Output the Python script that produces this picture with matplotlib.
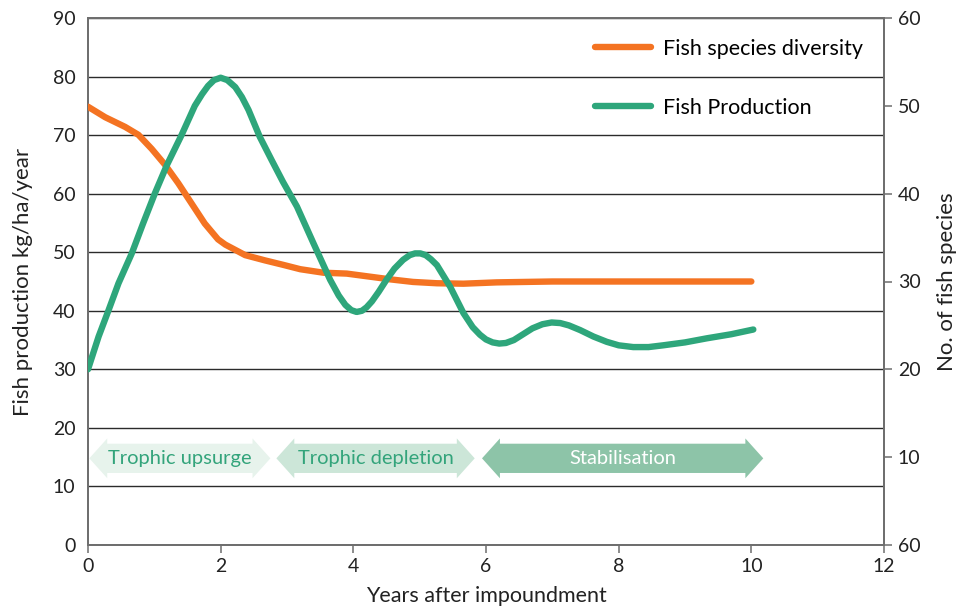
import matplotlib
matplotlib.use("Agg")
import matplotlib.pyplot as plt
from matplotlib.patches import Polygon
from matplotlib.lines import Line2D

plt.rcParams['font.family'] = ['Lato', 'DejaVu Sans']

# ---- data ----
prod_years = [0, 0.16, 0.31, 0.46, 0.66, 0.83, 1.01, 1.19, 1.41, 1.61, 1.72, 1.81, 1.9, 2.0, 2.1,
              2.22, 2.32, 2.42, 2.59, 2.77, 2.94, 3.15, 3.40, 3.65, 3.78, 3.88, 3.97, 4.05, 4.13,
              4.2, 4.28, 4.38, 4.50, 4.62, 4.75, 4.85, 4.93, 5.01, 5.09, 5.17, 5.26, 5.46, 5.66,
              5.8, 5.91, 6.0, 6.1, 6.2, 6.3, 6.42, 6.56, 6.7, 6.85, 6.99, 7.12, 7.25, 7.42, 7.62,
              7.82, 8.0, 8.22, 8.45, 8.67, 9.0, 9.33, 9.7, 10.03]
prod_values = [30, 35.6, 40.1, 44.7, 49.8, 54.9, 60.1, 64.9, 70.0, 75.0, 77.0, 78.4, 79.4, 79.8, 79.4,
               78.2, 76.5, 74.3, 69.7, 65.7, 62.0, 57.8, 51.5, 45.3, 42.6, 41.0, 40.1, 39.8, 40.0,
               40.6, 41.6, 43.2, 45.3, 47.2, 48.7, 49.5, 49.8, 49.8, 49.5, 48.8, 47.8, 44.1, 39.6,
               37.2, 35.9, 35.1, 34.6, 34.4, 34.5, 35.0, 36.0, 37.0, 37.7, 38.0, 37.9, 37.5, 36.7,
               35.6, 34.7, 34.1, 33.8, 33.8, 34.1, 34.6, 35.3, 36.0, 36.8]

div_years = [0, 0.26, 0.56, 0.76, 0.96, 1.16, 1.36, 1.56, 1.76, 1.96, 2.07, 2.17, 2.37, 2.67, 2.94,
             3.2, 3.55, 3.9, 4.2, 4.55, 4.9, 5.26, 5.66, 6.16, 7, 8, 9, 10]
div_species = [49.9, 48.7, 47.6, 46.7, 45.1, 43.3, 41.2, 38.9, 36.6, 34.8, 34.2, 33.8, 33.0, 32.4, 31.9,
               31.4, 31.0, 30.9, 30.6, 30.25, 29.95, 29.8, 29.75, 29.9, 30, 30, 30, 30]

left_ticks = [0, 10, 20, 30, 40, 50, 60, 70, 80, 90]
right_ticks = [0, 10, 20, 30, 40, 50, 60]
right_ticklabels = ['60', '10', '20', '30', '40', '50', '60']
x_ticks = [0, 2, 4, 6, 8, 10, 12]

phase_names = ['Trophic upsurge', 'Trophic depletion', 'Stabilisation']
phase_start = [0.02, 2.84, 5.94]
phase_end = [2.75, 5.83, 10.18]

# ---- styling ----
ORANGE = '#f47322'
GREEN = '#2ea67b'
phase_fill = ['#e7f3ec', '#cce6d8', '#8dc4a8']
phase_text = ['#33a47b', '#33a47b', '#ffffff']
TXT = '#222222'

fig = plt.figure(figsize=(9.59, 6.09), dpi=100)
ax = fig.add_axes([88/959, 64/609, 796/959, 527/609])
ax2 = ax.twinx()

ax.set_xlim(0, 12)
ax.set_ylim(0, 90)
ax2.set_ylim(0, 60)

ax.set_yticks(left_ticks)
ax.set_xticks(x_ticks)
ax2.set_yticks(right_ticks)
ax2.set_yticklabels(right_ticklabels)

for a in (ax, ax2):
    for s in a.spines.values():
        s.set_color('#6e6e6e')
        s.set_linewidth(1.3)

ax.yaxis.grid(True, color='#2b2b2b', linewidth=1.0)
ax.set_axisbelow(True)
ax.tick_params(axis='y', length=0, labelsize=14, pad=9, colors=TXT)
ax.tick_params(axis='x', length=6, width=1.1, color='#6e6e6e', labelsize=14, pad=3, labelcolor=TXT)
ax2.tick_params(axis='y', length=6, width=1.1, color='#6e6e6e', labelsize=14, pad=4, labelcolor=TXT)

ax.set_xlabel('Years after impoundment', fontsize=15.5, color=TXT, labelpad=8)
ax.set_ylabel('Fish production kg/ha/year', fontsize=16, color=TXT, labelpad=14)
ax2.set_ylabel('No. of fish species', fontsize=16, color=TXT, labelpad=12)

# phase arrows
yc, hh, bh, hl = 14.8, 3.4, 2.5, 0.27
for name, x0, x1, fc, tc in zip(phase_names, phase_start, phase_end, phase_fill, phase_text):
    verts = [(x0, yc), (x0 + hl, yc + hh), (x0 + hl, yc + bh), (x1 - hl, yc + bh),
             (x1 - hl, yc + hh), (x1, yc), (x1 - hl, yc - hh), (x1 - hl, yc - bh),
             (x0 + hl, yc - bh), (x0 + hl, yc - hh)]
    ax.add_patch(Polygon(verts, closed=True, facecolor=fc, edgecolor='none', zorder=2))
    ax.text((x0 + x1) / 2, yc, name, ha='center', va='center', fontsize=14.5, color=tc, zorder=3)

# lines
ax2.plot(div_years, div_species, color=ORANGE, linewidth=4.6, solid_capstyle='round',
         solid_joinstyle='round', zorder=3)
ax2.plot(prod_years, prod_values, color=GREEN, linewidth=4.6, solid_capstyle='round',
         solid_joinstyle='round', transform=ax.transData, zorder=4)

handles = [Line2D([], [], color=ORANGE, linewidth=4.6, solid_capstyle='round'),
           Line2D([], [], color=GREEN, linewidth=4.6, solid_capstyle='round')]
ax2.legend(handles, ['Fish species diversity', 'Fish Production'], loc='upper left',
           bbox_to_anchor=(595/959, 1 - 39/609), bbox_transform=fig.transFigure,
           frameon=False, fontsize=15.5, handlelength=2.6, handletextpad=0.55,
           labelspacing=1.8, borderaxespad=0, borderpad=0)

fig.savefig('out.png', dpi=100)
